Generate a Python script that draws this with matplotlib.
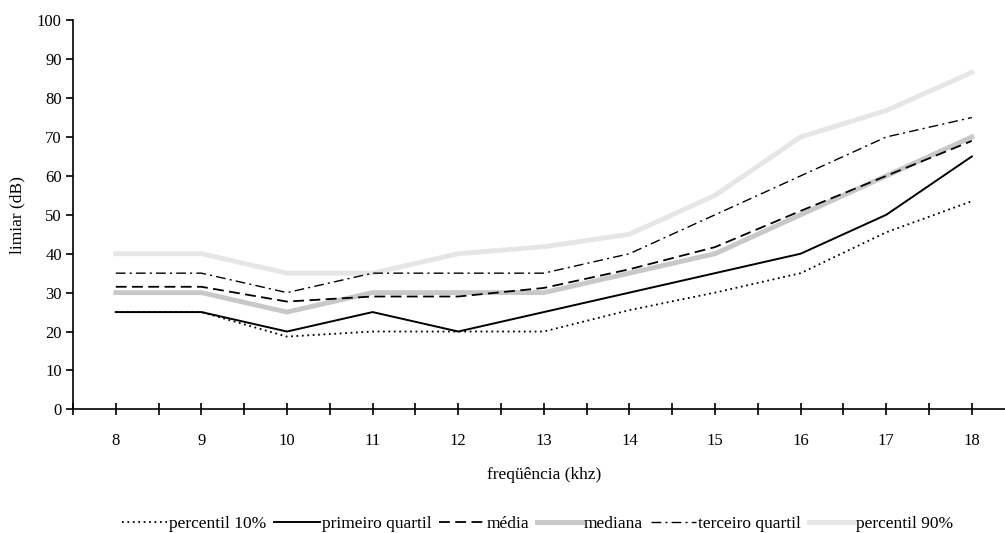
import matplotlib.pyplot as plt
from matplotlib.ticker import MultipleLocator

# frequencia (khz)
freq = [8, 9, 10, 11, 12, 13, 14, 15, 16, 17, 18]

# limiar (dB) por estatistica
p10 = [25, 25, 18.7, 20, 20, 20, 25.5, 30, 35, 45.5, 53.5]
q1 = [25, 25, 20, 25, 20, 25, 30, 35, 40, 50, 65]
media = [31.5, 31.5, 27.7, 29, 29, 31.2, 36, 41.7, 51, 60, 69]
mediana = [30, 30, 25, 30, 30, 30, 35, 40, 50, 60, 70]
q3 = [35, 35, 30, 35, 35, 35, 40, 50, 60, 70, 75]
p90 = [40, 40, 35, 35, 40, 41.8, 45, 55, 70, 76.8, 86.6]

plt.rcParams['font.family'] = 'Liberation Serif'
plt.rcParams['font.size'] = 12.5

fig = plt.figure(figsize=(10.05, 5.33), dpi=100)
ax = fig.add_axes([0.0726, 0.232, 0.937, 0.730])

ax.plot(freq, p90, color='#e6e6e6', lw=3.5, label='percentil 90%', zorder=1)
ax.plot(freq, mediana, color='#c8c8c8', lw=3.5, label='mediana', zorder=1)
ax.plot(freq, q3, color='black', lw=1.0, dashes=(7, 3, 1.5, 3), label='terceiro quartil')
ax.plot(freq, media, color='black', lw=1.3, dashes=(6, 3), label='média')
ax.plot(freq, q1, color='black', lw=1.4, label='primeiro quartil')
ax.plot(freq, p10, color='black', lw=1.3, dashes=(1, 2), label='percentil 10%')

ax.set_xlim(7.5, 18.5)
ax.set_ylim(0, 100)
ax.xaxis.set_major_locator(MultipleLocator(1))
ax.xaxis.set_minor_locator(MultipleLocator(0.5))
ax.yaxis.set_major_locator(MultipleLocator(10))
ax.tick_params(axis='x', which='both', direction='inout', length=8, width=1.2, pad=13,
               labelsize=12)
ax.tick_params(axis='y', direction='out', length=5, width=1.2, pad=3, labelsize=12)

for s in ['top', 'right']:
    ax.spines[s].set_visible(False)
for s in ['left', 'bottom']:
    ax.spines[s].set_linewidth(1.2)

ax.set_xlabel('freqüência (khz)', labelpad=13)
ax.set_ylabel('limiar (dB)', labelpad=8)

h, l = ax.get_legend_handles_labels()
order = ['percentil 10%', 'primeiro quartil', 'média', 'mediana', 'terceiro quartil', 'percentil 90%']
hs = [h[l.index(o)] for o in order]
fig.legend(hs, order, loc='lower center', bbox_to_anchor=(0.535, -0.028), ncol=6,
           frameon=False, handlelength=2.6, handletextpad=0.12, columnspacing=0.45)

fig.savefig('out.png', dpi=100)
